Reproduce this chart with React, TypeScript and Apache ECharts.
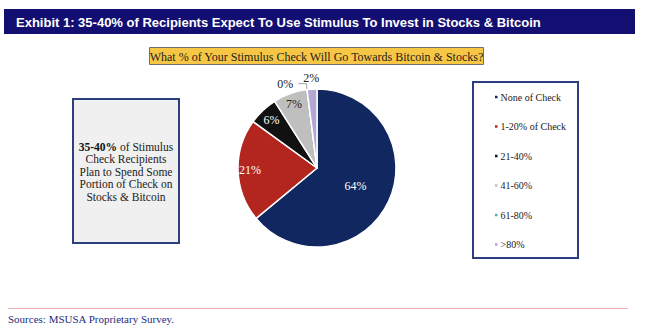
import React, { useEffect, useRef } from "react";
import * as echarts from "echarts";

const categories = ["None of Check", "1-20% of Check", "21-40%", "41-60%", "61-80%", ">80%"];
const values = [64, 21, 6, 7, 0, 2];
const colors = ["#10285f", "#b3261f", "#111111", "#bfbfbf", "#4bacc6", "#b4a7d6"];
const labelColors = ["#ffffff", "#ffffff", "#ffffff", "#222222", "#222222", "#222222"];

const titleText = "Exhibit 1: 35-40% of Recipients Expect To Use Stimulus To Invest in Stocks & Bitcoin";
const subtitleText = "What % of Your Stimulus Check Will Go Towards Bitcoin & Stocks?";
const sourceText = "Sources: MSUSA Proprietary Survey.";

const SERIF = "'Liberation Serif', 'Times New Roman', serif";
const SANS = "'Liberation Sans', Arial, sans-serif";

const CX = 317;
const CY = 168;
const R = 79;
// relative radius of label placement per slice (null = default)
const labelRadius = [null, 0.85, 0.84, 0.86, null, 1.14];

export default function App() {
  const ref = useRef<HTMLDivElement>(null);
  useEffect(() => {
    if (!ref.current) return;
    const chart = echarts.init(ref.current, null, { renderer: "svg" });
    const data = categories.map((name, i) => ({
      name,
      value: values[i],
      itemStyle: { color: colors[i] },
      label:
        i === 4
          ? { position: "outside", color: labelColors[i] }
          : { position: "inside", color: labelColors[i] },
      labelLine: i === 4 ? { show: true, length: 6, length2: 8 } : { show: false },
    }));
    chart.setOption({
      animation: false,
      legend: {
        orient: "vertical",
        left: 488,
        top: 86,
        itemWidth: 4.5,
        itemHeight: 4.5,
        itemGap: 17.5,
        icon: "rect",
        data: categories,
        textStyle: { fontFamily: SERIF, fontSize: 10, color: "#222", lineHeight: 12, padding: [0, 0, 0, -3] },
      },
      graphic: [
        { type: "rect", shape: { x: 4, y: 9, width: 631, height: 25 }, style: { fill: "#130f72" } },
        {
          type: "text",
          x: 16,
          y: 22,
          style: { text: titleText, fill: "#ffffff", font: `bold 13px ${SANS}`, verticalAlign: "middle" },
        },
        {
          type: "rect",
          shape: { x: 149.5, y: 47.5, width: 334, height: 17 },
          style: { fill: "#f7c644", stroke: "#6f6f6f", lineWidth: 1 },
        },
        {
          type: "text",
          x: 316.5,
          y: 56.5,
          style: {
            text: subtitleText,
            fill: "#1c1c1c",
            font: `12px ${SERIF}`,
            align: "center",
            verticalAlign: "middle",
          },
        },
        {
          type: "rect",
          shape: { x: 73, y: 99, width: 106, height: 144 },
          style: { fill: "#f0f0f0", stroke: "#2b3f7c", lineWidth: 2 },
        },
        {
          type: "text",
          x: 126,
          y: 171.5,
          style: {
            text: "{b|35-40%} of Stimulus\nCheck Recipients\nPlan to Spend Some\nPortion of Check on\nStocks & Bitcoin",
            fill: "#222222",
            font: `11.5px ${SERIF}`,
            lineHeight: 12.5,
            align: "center",
            verticalAlign: "middle",
            rich: { b: { fontWeight: "bold", fontFamily: SERIF, fontSize: 11.5, fill: "#111" } },
          },
        },
        {
          type: "rect",
          shape: { x: 473, y: 82, width: 105, height: 176 },
          style: { fill: "none", stroke: "#2b3f7c", lineWidth: 2 },
          z: -1,
        },
        {
          type: "line",
          shape: { x1: 8, y1: 308.5, x2: 628, y2: 308.5 },
          style: { stroke: "#f2b0ae", lineWidth: 1 },
        },
        {
          type: "text",
          x: 8,
          y: 319,
          style: { text: sourceText, fill: "#1f2b80", font: `11px ${SERIF}`, verticalAlign: "middle" },
        },
      ],
      series: [
        {
          type: "pie",
          center: [CX, CY],
          radius: [0, R],
          startAngle: 90,
          clockwise: true,
          avoidLabelOverlap: true,
          itemStyle: { borderColor: "#ffffff", borderWidth: 1.5 },
          label: {
            show: true,
            formatter: "{c}%",
            fontFamily: SERIF,
            fontSize: 12,
          },
          labelLine: { lineStyle: { color: "#a0a0a0", width: 1 } },
          emphasis: { disabled: true },
          labelLayout: (p: any) => {
            const f = labelRadius[p.dataIndex];
            if (f == null) return {};
            const lx = p.labelRect.x + p.labelRect.width / 2;
            const ly = p.labelRect.y + p.labelRect.height / 2;
            const dx = lx - CX;
            const dy = ly - CY;
            const d = Math.hypot(dx, dy) || 1;
            const t = f * R;
            return { dx: (dx / d) * (t - d), dy: (dy / d) * (t - d) };
          },
          data,
        },
      ],
    });
    return () => chart.dispose();
  }, []);
  return (
    <div
      ref={ref}
      style={{ position: "fixed", left: 0, top: 0, width: 656, height: 332, background: "#fff" }}
    />
  );
}
